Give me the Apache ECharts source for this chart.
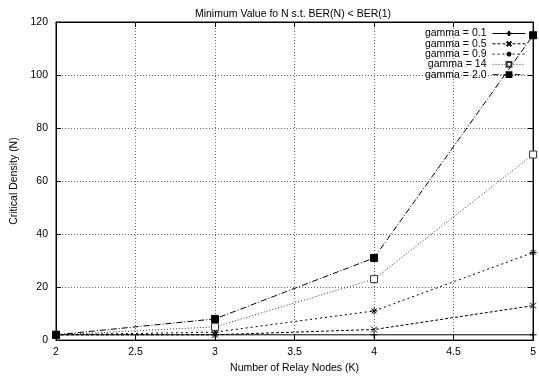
<!DOCTYPE html>
<html><head><meta charset="utf-8">
<script src="https://cdn.jsdelivr.net/npm/echarts@6/dist/echarts.min.js"></script>
<style>html,body{margin:0;padding:0;background:#fff}#c{width:539px;height:379px}</style>
</head><body><div id="c"></div>
<script>
const xValues = [2, 3, 4, 5];
const seriesNames = ['gamma = 0.1', 'gamma = 0.5', 'gamma = 0.9', 'gamma = 14', 'gamma = 2.0'];
const g01 = [2, 2, 2, 2];
const g05 = [2, 2, 4, 13];
const g09 = [2, 3, 11, 33];
const g14 = [2, 5, 23, 70];
const g20 = [2, 8, 31, 115];
const titleText = 'Minimum Value fo N s.t. BER(N) < BER(1)';
const xName = 'Number of Relay Nodes (K)';
const yName = 'Critical Density (N)';

const font = 'Liberation Sans, Arial, sans-serif';
const plus = 'path://M0,5L10,5M5,0L5,10';
const cross = 'path://M0,0L10,10M10,0L0,10';
const star = 'path://M0,5L10,5M5,0L5,10M1.5,1.5L8.5,8.5M8.5,1.5L1.5,8.5';

function mk(name, data, dash, color, symbol, size, fill) {
  return {
    name, type: 'line', data: data.map((v, i) => [xValues[i], v]),
    symbol, symbolSize: size, showSymbol: true,
    lineStyle: { color, width: 1, type: dash },
    itemStyle: { color: fill, borderColor: color, borderWidth: 1 },
    emphasis: { disabled: true }, animation: false, z: 3
  };
}

const chart = echarts.init(document.getElementById('c'));
chart.setOption({
  animation: false,
  title: { text: titleText, left: 288, textAlign: 'center', top: 4,
    textStyle: { fontFamily: font, fontSize: 10.5, fontWeight: 'normal', color: '#000' } },
  grid: { left: 56, right: 3, top: 22, bottom: 37, show: true, borderColor: '#000', borderWidth: 1 },
  legend: {
    orient: 'vertical', right: 8, top: 23, align: 'right',
    itemWidth: 33, itemHeight: 6, itemGap: -0.7,
    lineStyle: { width: 1 },
    textStyle: { fontFamily: font, fontSize: 10.5, color: '#000', padding: [0, 1, 0, 0] },
    data: seriesNames
  },
  xAxis: [{
    type: 'value', min: 2, max: 5, interval: 0.5,
    name: xName, nameLocation: 'middle', nameGap: 22,
    nameTextStyle: { fontFamily: font, fontSize: 10.5, color: '#000' },
    axisLine: { show: true, onZero: false, lineStyle: { color: '#000' } },
    axisTick: { show: true, inside: true, length: 5, lineStyle: { color: '#000' } },
    axisLabel: { fontFamily: font, fontSize: 10.5, color: '#000', margin: 7 },
    splitLine: { show: true, lineStyle: { color: '#666', type: [1, 2], width: 1 } }
  }, {
    type: 'value', min: 2, max: 5, interval: 0.5, position: 'top',
    axisLine: { show: true, onZero: false, lineStyle: { color: '#000' } },
    axisTick: { show: true, inside: true, length: 5, lineStyle: { color: '#000' } },
    axisLabel: { show: false }, splitLine: { show: false }
  }],
  yAxis: [{
    type: 'value', min: 0, max: 120, interval: 20,
    name: yName, nameLocation: 'middle', nameGap: 33,
    nameTextStyle: { fontFamily: font, fontSize: 10.5, color: '#000' },
    axisLine: { show: true, onZero: false, lineStyle: { color: '#000' } },
    axisTick: { show: true, inside: true, length: 5, lineStyle: { color: '#000' } },
    axisLabel: { fontFamily: font, fontSize: 10.5, color: '#000', margin: 8 },
    splitLine: { show: true, lineStyle: { color: '#666', type: [1, 2], width: 1 } }
  }, {
    type: 'value', min: 0, max: 120, interval: 20, position: 'right',
    axisLine: { show: true, onZero: false, lineStyle: { color: '#000' } },
    axisTick: { show: true, inside: true, length: 5, lineStyle: { color: '#000' } },
    axisLabel: { show: false }, splitLine: { show: false }
  }],
  series: [
    mk(seriesNames[0], g01, 'solid', '#000', plus, 7, '#000'),
    mk(seriesNames[1], g05, [3, 2], '#000', cross, 6, '#000'),
    mk(seriesNames[2], g09, [2, 3], '#000', star, 7, '#000'),
    mk(seriesNames[3], g14, [1, 2], '#333', 'rect', 7, '#fff'),
    mk(seriesNames[4], g20, [6, 2, 1, 2], '#000', 'rect', 7, '#000')
  ]
});
</script></body></html>
